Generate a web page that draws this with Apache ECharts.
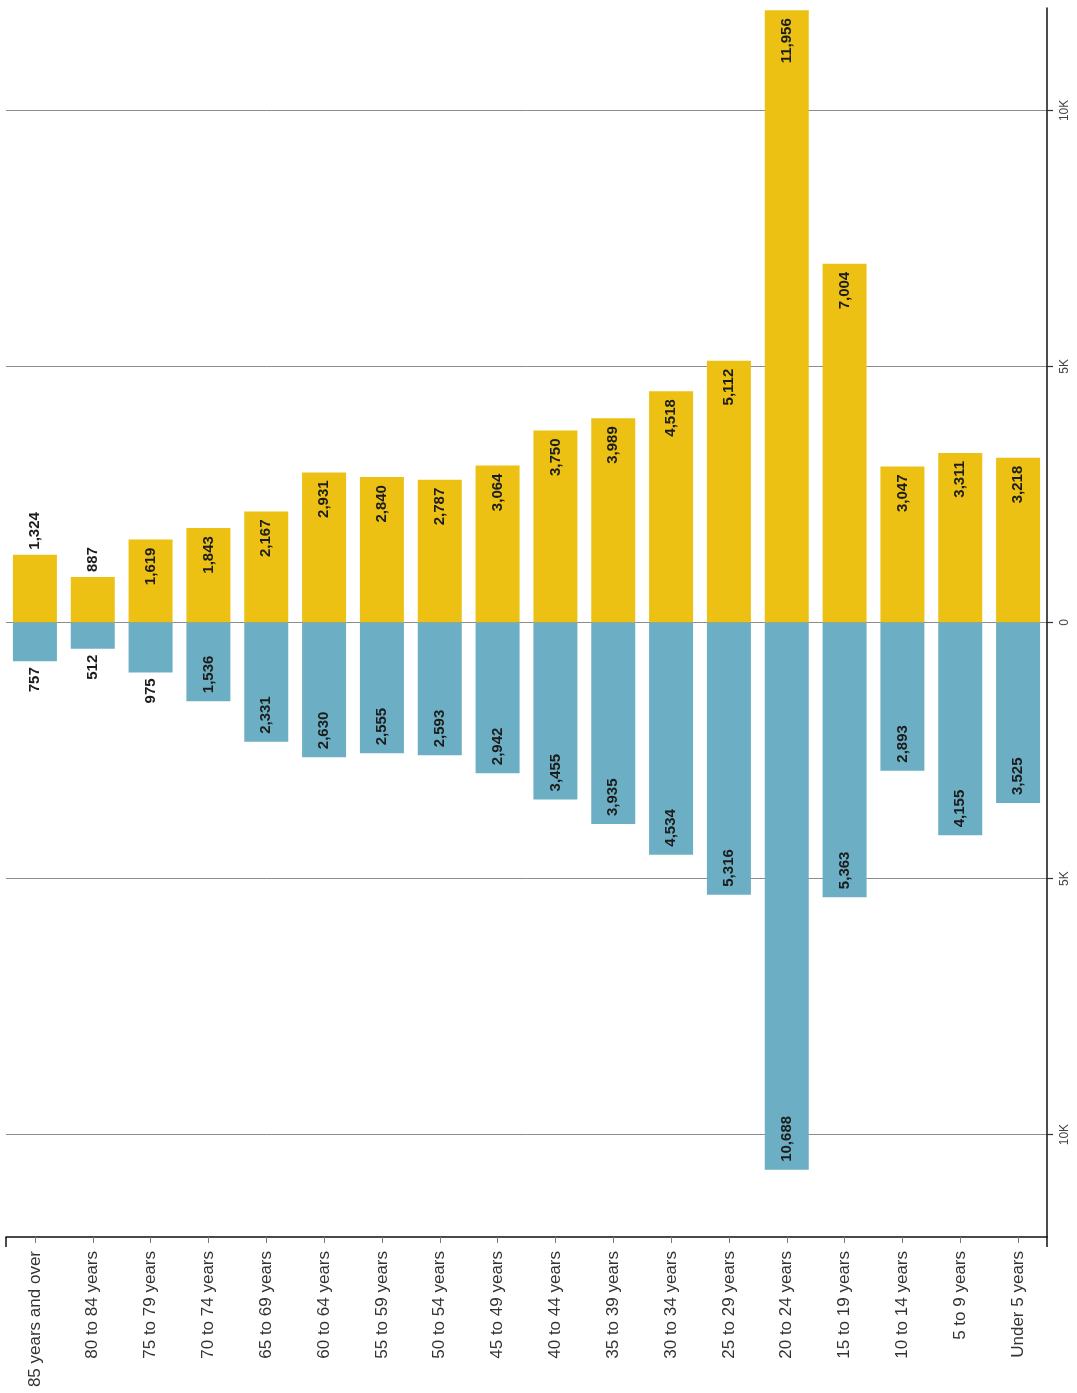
<!DOCTYPE html>
<html>
<head>
<meta charset="utf-8">
<script src="https://cdn.jsdelivr.net/npm/echarts@6/dist/echarts.min.js"></script>
<style>
  html, body { margin: 0; padding: 0; background: #ffffff; }
  #chart { width: 1077px; height: 1393px; }
</style>
</head>
<body>
<div id="chart"></div>
<script>
const categories = [
  '85 years and over', '80 to 84 years', '75 to 79 years', '70 to 74 years',
  '65 to 69 years', '60 to 64 years', '55 to 59 years', '50 to 54 years',
  '45 to 49 years', '40 to 44 years', '35 to 39 years', '30 to 34 years',
  '25 to 29 years', '20 to 24 years', '15 to 19 years', '10 to 14 years',
  '5 to 9 years', 'Under 5 years'
];
const yellowValues = [1324, 887, 1619, 1843, 2167, 2931, 2840, 2787, 3064, 3750, 3989, 4518, 5112, 11956, 7004, 3047, 3311, 3218];
const blueValues   = [757, 512, 975, 1536, 2331, 2630, 2555, 2593, 2942, 3455, 3935, 4534, 5316, 10688, 5363, 2893, 4155, 3525];
const valueMin = -12000;
const valueMax = 12000;

const YELLOW = '#ECC113';
const BLUE = '#6CAFC5';
const OUTSIDE_BELOW = 1400; // labels of shorter bars sit outside the bar

const fmt = v => Math.abs(v).toLocaleString('en-US');
const labelFont = { fontFamily: 'Liberation Sans, Arial, sans-serif', fontSize: 15, fontWeight: 'bold', color: '#1c1c1c' };

const yellowData = yellowValues.map(v => ({
  value: v,
  label: Object.assign({
    show: true, rotate: 90, verticalAlign: 'middle',
    position: v < OUTSIDE_BELOW ? 'top' : 'insideTop',
    align: v < OUTSIDE_BELOW ? 'left' : 'right',
    distance: v < OUTSIDE_BELOW ? 5 : 8,
    formatter: p => fmt(p.value)
  }, labelFont)
}));
const blueData = blueValues.map(v => ({
  value: -v,
  label: Object.assign({
    show: true, rotate: 90, verticalAlign: 'middle',
    position: v < OUTSIDE_BELOW ? 'bottom' : 'insideBottom',
    align: v < OUTSIDE_BELOW ? 'right' : 'left',
    distance: v < OUTSIDE_BELOW ? 6 : 8,
    formatter: p => fmt(p.value)
  }, labelFont)
}));

const chart = echarts.init(document.getElementById('chart'), null, { renderer: 'canvas' });
chart.setOption({
  backgroundColor: '#ffffff',
  animation: false,
  grid: { left: 6, right: 30, top: 8, bottom: 156, containLabel: false },
  xAxis: [
    {
      type: 'category',
      data: categories,
      position: 'bottom',
      boundaryGap: true,
      axisLine: { show: true, onZero: false, lineStyle: { color: '#111', width: 1.5 } },
      axisTick: { show: true, alignWithLabel: true, length: 6, lineStyle: { color: '#777', width: 1 } },
      axisLabel: {
        interval: 0, rotate: 90, margin: 14,
        fontFamily: 'Liberation Sans, Arial, sans-serif', fontSize: 17, color: '#333'
      },
      splitLine: { show: false }
    },
    {
      type: 'value',
      position: 'bottom',
      min: 0, max: categories.length, interval: categories.length,
      axisLine: { show: false, onZero: false },
      axisTick: { show: true, length: 10, lineStyle: { color: '#111', width: 1.5 } },
      axisLabel: { show: false },
      splitLine: { show: false }
    }
  ],
  yAxis: {
    type: 'value',
    position: 'right',
    min: valueMin,
    max: valueMax,
    splitNumber: 5,
    axisLine: { show: true, onZero: false, lineStyle: { color: '#111', width: 1.5 } },
    axisTick: { show: true, length: 6, lineStyle: { color: '#333', width: 1.2 } },
    axisLabel: {
      rotate: 90, margin: 12,
      showMinLabel: false, showMaxLabel: false,
      fontFamily: 'Liberation Sans, Arial, sans-serif', fontSize: 12, color: '#444',
      formatter: v => (v === 0 ? '0' : (Math.abs(v) / 1000) + 'K')
    },
    splitLine: { show: true, showMinLine: false, showMaxLine: false, lineStyle: { color: '#8c8c8c', width: 1 } }
  },
  series: [
    {
      name: 'Yellow', type: 'bar', xAxisIndex: 0, barWidth: 44, barGap: '-100%',
      itemStyle: { color: YELLOW }, data: yellowData
    },
    {
      name: 'Blue', type: 'bar', xAxisIndex: 0, barWidth: 44, barGap: '-100%',
      itemStyle: { color: BLUE }, data: blueData
    }
  ]
});
</script>
</body>
</html>
